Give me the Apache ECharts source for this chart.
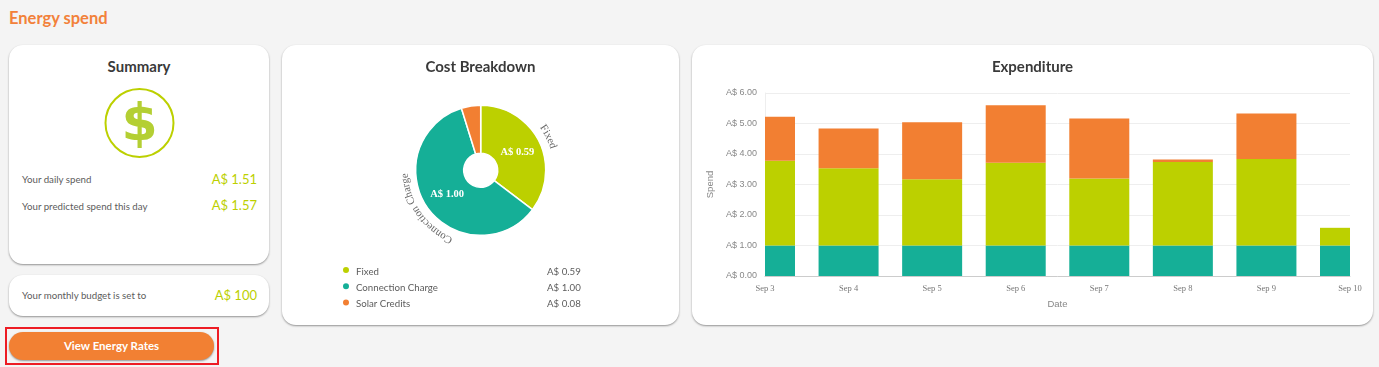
<!DOCTYPE html>
<html>
<head>
<meta charset="utf-8">
<title>Energy spend</title>
<script src="https://cdn.jsdelivr.net/npm/echarts@6/dist/echarts.min.js"></script>
<style>
html, body { margin: 0; padding: 0; background: #f4f4f4; width: 1379px; height: 367px; overflow: hidden; font-family: Lato, sans-serif; }
.abs { position: absolute; white-space: nowrap; }
.card { position: absolute; background: #fff; border-radius: 14px; box-shadow: 0 1px 2px rgba(0,0,0,.4); }
.title { position: absolute; top: 12px; left: 0; right: 0; text-align: center; font-size: 15px; font-weight: 700; color: #3a3a3a; line-height: 18px; }
.lbl { font-size: 9.7px; color: #5c5c5c; line-height: 14px; }
.amt { font-size: 13px; color: #bcd000; line-height: 18px; right: 1122px; }
#pie, #bars { position: absolute; left: 0; top: 0; width: 100%; height: 100%; }
#curved { position: absolute; left: 0; top: 0; pointer-events: none; }
</style>
</head>
<body>
<div class="abs" style="left:9px;top:9px;font-size:16.5px;font-weight:700;color:#f2813a;line-height:19px">Energy spend</div>

<div class="card" style="left:9px;top:45px;width:260px;height:219px">
  <div class="title">Summary</div>
  <svg style="position:absolute;left:94px;top:42px" width="73" height="73">
    <circle cx="36.5" cy="36" r="34" fill="none" stroke="#bcd000" stroke-width="2"></circle>
    <text x="36.5" y="53" text-anchor="middle" font-family="DejaVu Sans" font-weight="700" font-size="52" fill="#b4cf33">$</text>
  </svg>
</div>
<div class="abs lbl" style="left:22px;top:172px">Your daily spend</div>
<div class="abs amt" style="top:170px">A$ 1.51</div>
<div class="abs lbl" style="left:22px;top:199px">Your predicted spend this day</div>
<div class="abs amt" style="top:196px">A$ 1.57</div>

<div class="card" style="left:9px;top:275px;width:260px;height:41px"></div>
<div class="abs lbl" style="left:22px;top:288px">Your monthly budget is set to</div>
<div class="abs amt" style="top:286px">A$ 100</div>

<div class="abs" style="left:5px;top:327px;width:210px;height:34px;border:2px solid #ed1c24"></div>
<div class="abs" style="left:9px;top:332px;width:205px;height:28px;border-radius:14px;background:#f28033;box-shadow:0 1px 2px rgba(0,0,0,.4);color:#fff;font-size:11.5px;font-weight:700;text-align:center;line-height:28px">View Energy Rates</div>

<div class="card" style="left:282px;top:45px;width:397px;height:280px">
  <div id="pie"></div>
  <svg id="curved" width="397" height="280"></svg>
  <div class="title">Cost Breakdown</div>
</div>

<div class="card" style="left:692px;top:45px;width:681px;height:280px">
  <div id="bars"></div>
  <div class="title">Expenditure</div>
</div>

<script>
var pieNames = ['Fixed', 'Connection Charge', 'Solar Credits'];
var pieValues = [0.59, 1.00, 0.08];
var pieColors = ['#bcd000', '#15af97', '#f27f32'];

var days = ['Sep 3', 'Sep 4', 'Sep 5', 'Sep 6', 'Sep 7', 'Sep 8', 'Sep 9', 'Sep 10'];
var connection = [1.00, 1.00, 1.00, 1.00, 1.00, 1.00, 1.00, 1.00];
var fixed = [2.78, 2.53, 2.17, 2.71, 2.20, 2.74, 2.84, 0.58];
var solar = [1.44, 1.31, 1.87, 1.89, 1.96, 0.08, 1.49, 0];

var money = function (v) { return 'A$ ' + v.toFixed(2); };

var pieChart = echarts.init(document.getElementById('pie'));
var pieCenter = [198.7, 125.3];
var total = pieValues.reduce(function (a, b) { return a + b; }, 0);
var midAngle = function (i) {
    var before = pieValues.slice(0, i).reduce(function (a, b) { return a + b; }, 0);
    return (before + pieValues[i] / 2) / total * 2 * Math.PI;
};
pieChart.setOption({
    animation: false,
    color: pieColors,
    legend: {
        orient: 'vertical',
        left: 54,
        top: 215,
        icon: 'circle',
        itemWidth: 8,
        itemHeight: 8,
        itemGap: 4.7,
        selectedMode: false,
        data: pieNames,
        formatter: function (name) {
            return '{n|' + name + '}{v|' + money(pieValues[pieNames.indexOf(name)]) + '}';
        },
        textStyle: {
            rich: {
                n: { width: 191, fontFamily: 'Lato', fontSize: 9.7, color: '#5c5c5c', padding: [3, 0, 0, 1] },
                v: { fontFamily: 'Lato', fontSize: 9.7, color: '#5c5c5c', padding: [3, 0, 0, 0] }
            }
        }
    },
    series: [{
        type: 'pie',
        center: pieCenter,
        radius: [17, 65],
        startAngle: 90,
        silent: true,
        itemStyle: { borderColor: '#fff', borderWidth: 1.5 },
        labelLine: { show: false },
        label: {
            position: 'inside',
            color: '#fff',
            fontFamily: 'Liberation Serif',
            fontSize: 10.5,
            fontWeight: 'bold',
            formatter: function (p) { return p.percent < 10 ? '' : money(p.value); }
        },
        labelLayout: function (p) {
            var a = midAngle(p.dataIndex);
            return { x: pieCenter[0] + 41 * Math.sin(a), y: pieCenter[1] - 41 * Math.cos(a) };
        },
        data: pieNames.map(function (n, i) { return { name: n, value: pieValues[i] }; })
    }]
});

// curved slice names, echarts has no text on a path
var svg = document.getElementById('curved');
var NS = 'http://www.w3.org/2000/svg';
pieValues.forEach(function (v, i) {
    if (v / total < 0.1) return;
    var mid = midAngle(i) * 180 / Math.PI;
    var r = 73;
    var pt = function (deg) {
        var a = deg * Math.PI / 180;
        return (pieCenter[0] + r * Math.sin(a)) + ' ' + (pieCenter[1] - r * Math.cos(a));
    };
    var path = document.createElementNS(NS, 'path');
    path.setAttribute('id', 'arc' + i);
    path.setAttribute('fill', 'none');
    path.setAttribute('d', 'M ' + pt(mid - 90) + ' A ' + r + ' ' + r + ' 0 0 1 ' + pt(mid + 90));
    svg.appendChild(path);
    var text = document.createElementNS(NS, 'text');
    text.setAttribute('font-family', 'Liberation Serif');
    text.setAttribute('font-size', '10.8');
    text.setAttribute('fill', '#666');
    text.setAttribute('text-anchor', 'middle');
    var tp = document.createElementNS(NS, 'textPath');
    tp.setAttribute('href', '#arc' + i);
    tp.setAttribute('startOffset', '50%');
    tp.textContent = pieNames[i];
    text.appendChild(tp);
    svg.appendChild(text);
});

var barChart = echarts.init(document.getElementById('bars'));
var BAR_WIDTH = 60;
// bars on ticks get cut at the grid edge, plain bar series does not clip here
var renderBar = function (params, api) {
    var lo = api.coord([api.value(0), api.value(1)]);
    var hi = api.coord([api.value(0), api.value(2)]);
    var rect = echarts.graphic.clipRectByRect(
        { x: lo[0] - BAR_WIDTH / 2, y: hi[1], width: BAR_WIDTH, height: lo[1] - hi[1] },
        params.coordSys
    );
    return rect && { type: 'rect', shape: rect, style: { fill: api.visual('color') } };
};
var stacked = [0, 0, 0, 0, 0, 0, 0, 0];
var barSeries = function (name, values, color) {
    var rows = values.map(function (v, i) {
        var row = [i, stacked[i], stacked[i] + v];
        stacked[i] += v;
        return row;
    });
    return {
        name: name,
        type: 'custom',
        renderItem: renderBar,
        itemStyle: { color: color },
        encode: { x: 0, y: [1, 2] },
        data: rows
    };
};
barChart.setOption({
    animation: false,
    grid: { left: 73, right: 23, top: 48, bottom: 49 },
    xAxis: {
        type: 'category',
        data: days,
        boundaryGap: false,
        name: 'Date',
        nameLocation: 'middle',
        nameGap: 23,
        nameTextStyle: { color: '#888', fontFamily: 'Liberation Sans', fontSize: 9.5 },
        axisTick: { show: false },
        axisLine: { lineStyle: { color: '#ccc' } },
        axisLabel: { color: '#777', fontFamily: 'Liberation Serif', fontSize: 8.5, margin: 8, showMaxLabel: true, showMinLabel: true, interval: 0 }
    },
    yAxis: {
        type: 'value',
        min: 0,
        max: 6,
        interval: 1,
        name: 'Spend',
        nameLocation: 'middle',
        nameGap: 48,
        nameTextStyle: { color: '#888', fontFamily: 'Liberation Sans', fontSize: 9.5 },
        axisLine: { show: true, lineStyle: { color: '#eee' } },
        axisTick: { show: false },
        splitLine: { lineStyle: { color: '#eee' } },
        axisLabel: { color: '#888', fontFamily: 'Liberation Sans', fontSize: 9, margin: 8, formatter: money }
    },
    series: [
        barSeries('Connection Charge', connection, pieColors[1]),
        barSeries('Fixed', fixed, pieColors[0]),
        barSeries('Solar Credits', solar, pieColors[2])
    ]
});
</script>
</body>
</html>
